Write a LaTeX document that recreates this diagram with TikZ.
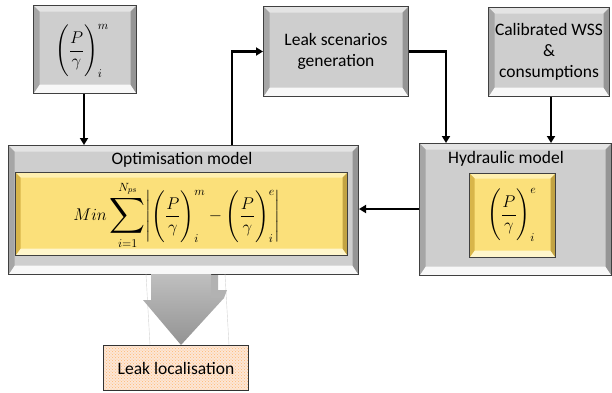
\RequirePackage{fix-cm}
\documentclass[tikz,border=0pt]{standalone}
\usepackage{amsmath}
\usepackage{exscale}
\usepackage{fontspec}
\setmainfont{Carlito}
\usetikzlibrary{arrows.meta,patterns}
\definecolor{gcen}{HTML}{CECECE}
\definecolor{gtop}{HTML}{E4E4E4}
\definecolor{gside}{HTML}{A6A6A6}
\definecolor{gbot}{HTML}{F8F8F8}
\definecolor{ycen}{HTML}{FBE07A}
\definecolor{ytop}{HTML}{FFF0B0}
\definecolor{yside}{HTML}{D8B54A}
\definecolor{ybot}{HTML}{FFF6CC}
\definecolor{peach}{HTML}{FCE6D6}
\newcommand\bevelpic[6]{%
 \coordinate (bNW) at (path picture bounding box.north west);
 \coordinate (bNE) at (path picture bounding box.north east);
 \coordinate (bSW) at (path picture bounding box.south west);
 \coordinate (bSE) at (path picture bounding box.south east);
 \coordinate (iNW) at ([shift={(#1pt,-#1pt)}]bNW);
 \coordinate (iNE) at ([shift={(-#1pt,-#1pt)}]bNE);
 \coordinate (iSW) at ([shift={(#1pt,#2pt)}]bSW);
 \coordinate (iSE) at ([shift={(-#1pt,#2pt)}]bSE);
 \fill[#3] (bNW) -- (bNE) -- (iNE) -- (iNW) -- cycle;
 \fill[#5] (bSW) -- (bSE) -- (iSE) -- (iSW) -- cycle;
 \fill[#4] (bNW) -- (bSW) -- (iSW) -- (iNW) -- cycle;
 \fill[#6] (bNE) -- (bSE) -- (iSE) -- (iNE) -- cycle;
}
\newcommand\PG[2]{\Biggl(\dfrac{P}{\gamma}\Biggr)^{#1}_{#2}}
\newcommand\bigsum{\mathop{\vcenter{\hbox{\fontsize{27}{27}\selectfont$\displaystyle\sum$}}}\limits}
\tikzset{
 greybox/.style={draw=black!75, line width=1pt, fill=gcen, anchor=north west, inner sep=0pt,
   font=\fontsize{17.5}{21}\selectfont, align=center,
   path picture={\bevelpic{6}{9}{gtop}{gside}{gbot}{gside!90!black}}},
 yelbox/.style={draw=black!75, line width=1pt, fill=ycen, anchor=north west, inner sep=0pt,
   path picture={\bevelpic{5}{7}{ytop}{yside}{ybot}{yside!90!black}}},
 conn/.style={line width=2.4pt, -{Triangle[length=7pt,width=8pt]}},
 lbl/.style={font=\fontsize{17.5}{21}\selectfont, inner sep=0pt},
 mth/.style={font=\fontsize{17}{22}\selectfont, inner sep=0pt}
}
\begin{document}
\begin{tikzpicture}[x=1pt,y=-1pt]
\useasboundingbox (0,0) rectangle (612,392);
% top boxes
\node[greybox, minimum width=103pt, minimum height=88pt] (meas) at (33,5) {};
\node[mth] (measf) at (82,51) {$\displaystyle\PG{m}{i}$};
\node[greybox, minimum width=145pt, minimum height=90pt] (leak) at (263,6) {Leak scenarios\\generation};
\node[greybox, minimum width=121pt, minimum height=89pt] (cal) at (488,7) {Calibrated WSS\\\&\\consumptions};
% optimisation
\node[greybox, minimum width=350pt, minimum height=129pt] (opt) at (8,145) {};
\node[lbl] (optl) at (182,160) {Optimisation model};
\node[yelbox, minimum width=332pt, minimum height=83pt] (opty) at (15,172) {};
\node[mth] (optf) at (177,215) {$\displaystyle Min\bigsum_{i=1}^{N_{ps}}\Biggl|\PG{m}{i}-\PG{e}{i}\Biggr|$};
% hydraulic
\node[greybox, minimum width=192pt, minimum height=132pt] (hyd) at (419,143) {};
\node[lbl] (hydl) at (506,159) {Hydraulic model};
\node[yelbox, minimum width=86pt, minimum height=84pt] (hydy) at (469,173) {};
\node[mth] (hydf) at (512,215) {$\displaystyle\PG{e}{i}$};
% connectors
\coordinate (c1) at (84,145);
\coordinate (c2) at (232,145);
\coordinate (c3) at (446,143);
\coordinate (c5) at (419,209);
\draw[conn] (meas.south -| c1) -- (c1);
\draw[conn] (c2) |- (leak.west);
\draw[conn] (leak.east) -| (c3);
\draw[conn] (cal.south -| 551,0) -- (hyd.north -| 551,0);
\draw[conn] (c5) -- (opt.east |- c5);
% big arrow
\draw[gray!35, line width=0.4pt] (146,274) -- (150,345);
\draw[gray!35, line width=0.4pt] (225,274) -- (229,345);
\shade[top color=gray!50, bottom color=gray!85] (151,274) -- (211,274) -- (211,298) -- (224,298) -- (181,345) -- (143,300) -- (151,300) -- cycle;
\fill[gray!60] (211,275) -- (218,275) -- (218,290) -- (227,290) -- (224,298) -- (211,298) -- cycle;
% leak localisation
\node[draw=black!80, line width=1pt, anchor=north west, minimum width=145pt, minimum height=45pt,
  preaction={fill=peach}, pattern={crosshatch dots}, pattern color=orange!55] (loc) at (103,345) {};
\node[lbl] (locl) at (loc.center) {Leak localisation};
\end{tikzpicture}
\end{document}
